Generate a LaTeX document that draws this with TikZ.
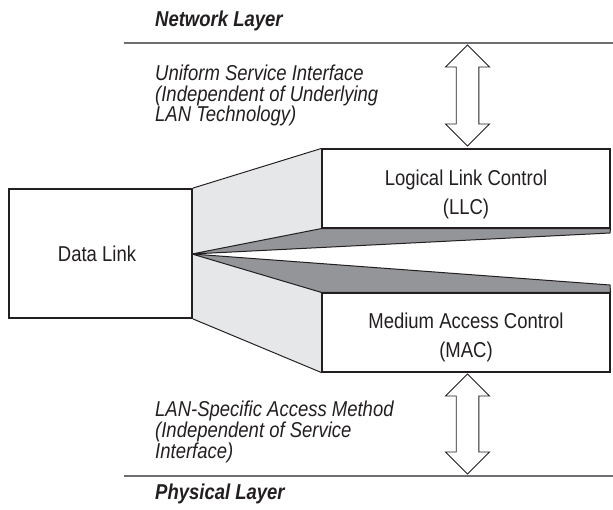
\documentclass[tikz,border=0pt]{standalone}
\usepackage{fontspec}
\setmainfont{Liberation Sans}[FakeStretch=0.86]
\usetikzlibrary{calc}
\definecolor{ink}{HTML}{231F20}
\definecolor{lightf}{HTML}{E6E7E8}
\definecolor{darkf}{HTML}{939598}
\definecolor{rulec}{HTML}{6D6E71}
\newcommand\dblarrow[2]{%
  \filldraw[arrowbody] (467.5,#1) -- (489.5,#1+22) -- (478.8,#1+22) -- (478.8,#2-22)
    -- (489.5,#2-22) -- (467.5,#2) -- (445.5,#2-22) -- (456.2,#2-22)
    -- (456.2,#1+22) -- (445.5,#1+22) -- cycle;}
\begin{document}
\begin{tikzpicture}[x=1pt,y=-1pt,
  layerbox/.style={draw=ink, fill=white, line width=1.1pt, minimum width=288pt, minimum height=79pt, inner sep=0pt},
  dlbox/.style={draw=ink, fill=white, line width=1.8pt, minimum width=183pt, minimum height=129pt, inner sep=0pt},
  boxtext/.style={anchor=base, inner sep=0pt, font=\fontsize{21.5}{23}\selectfont, text=ink},
  notetext/.style={anchor=base west, inner sep=0pt, font=\fontsize{21.5}{23}\selectfont\itshape, text=ink},
  layertext/.style={anchor=base west, inner sep=0pt, font=\fontsize{21.5}{23}\selectfont\bfseries\itshape, text=ink},
  edge/.style={draw=ink, line width=1pt},
  wedge/.style={fill=darkf, draw=ink, line width=1pt, line join=round},
  arrowbody/.style={fill=white, draw=ink, line width=0.9pt},
  rule/.style={draw=rulec, line width=1.5pt}]
\useasboundingbox (0,0) rectangle (613,510);

\coordinate (apex) at (192,254);
\coordinate (uw) at (610,233);
\coordinate (lw) at (610,285);

% box centres
\path (466,188.5) coordinate (llcc);
\path (466,332.5) coordinate (macc);

% light gray side face
\fill[lightf] (192,189) -- (322,149) -- (322,372) -- (192,318) -- cycle;
% white gap between the two wedges
\fill[white] (apex) -- (uw) -- (lw) -- cycle;

\node[layerbox] (llc) at (llcc) {};
\node[layerbox] (mac) at (macc) {};
\node[dlbox] (dl) at (100.5,253.5) {};

% wedges
\filldraw[wedge] (apex) -- (llc.south west) -- (llc.south east) -- (uw) -- cycle;
\filldraw[wedge] (apex) -- (lw) -- (mac.north east) -- (mac.north west) -- cycle;

% side face edges
\draw[edge] (dl.north east) -- (llc.north west);
\draw[edge] (dl.south east) -- (mac.south west);

% redraw box outlines on top
\node[layerbox, fill=none] at (llcc) {};
\node[layerbox, fill=none] at (macc) {};

% rules
\coordinate (r1a) at (124,43);
\coordinate (r1b) at (613,43);
\coordinate (r2a) at (124,476);
\coordinate (r2b) at (613,476);
\draw[rule] (r1a) -- (r1b);
\draw[rule] (r2a) -- (r2b);

% double arrows
\dblarrow{45}{146}
\dblarrow{374}{474}

% texts
\node[layertext] (nl) at (155,26.5) {Network Layer};
\node[layertext] (pl) at (155,499) {Physical Layer};

\node[notetext] (u1) at (155,81) {Uniform Service Interface};
\node[notetext] (u2) at (155,101.5) {(Independent of Underlying};
\node[notetext] (u3) at (155,122) {LAN Technology)};

\node[notetext] (l1) at (155,416) {LAN-Specific Access Method};
\node[notetext] (l2) at (155,437) {(Independent of Service};
\node[notetext] (l3) at (155,458) {Interface)};

\node[boxtext] (t1) at (466,186) {Logical Link Control};
\node[boxtext] (t2) at (466,215) {(LLC)};
\node[boxtext] (t3) at (466,329) {Medium Access Control};
\node[boxtext] (t4) at (466,358) {(MAC)};
\node[boxtext] (t5) at (97,262) {Data Link};
\end{tikzpicture}
\end{document}
